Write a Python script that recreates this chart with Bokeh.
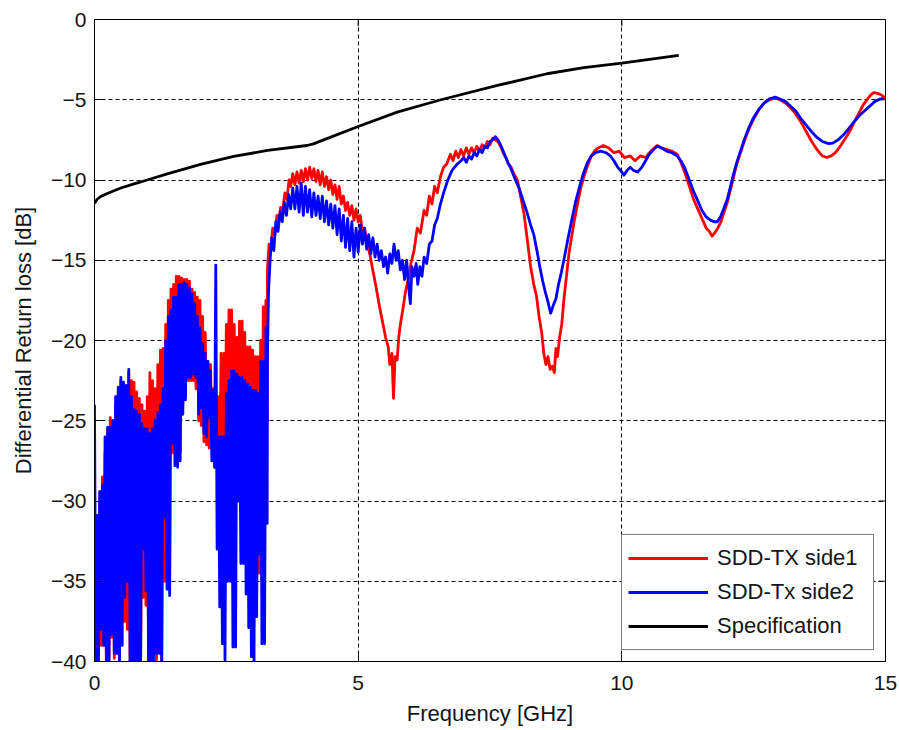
from bokeh.plotting import figure
from bokeh.models import Range1d, FixedTicker, Legend, LegendItem
from bokeh.embed import file_html
from bokeh.resources import INLINE

# ---------------- data ----------------
# low-frequency noisy region: upper / lower excursions every 0.05 GHz
lf_freq = [round(0.05 * i, 2) for i in range(66)]  # 0.00 .. 3.25 GHz grid

blue_lf_top = [-24.0, -30.9, -29.4, -29.0, -26.0, -25.4, -25.4, -25.0, -23.5, -22.9,
               -22.3, -22.6, -22.8, -21.8, -23.5, -24.3, -24.4, -24.6, -25.2, -25.5,
               -25.5, -25.8, -25.5, -25.0, -24.5, -24.0, -23.0, -20.0, -18.5, -18.1,
               -17.3, -17.3, -16.5, -16.5, -16.4, -16.5, -16.7, -17.1, -17.7, -18.5,
               -19.2, -20.2, -20.8, -21.3, -21.9, -23.1, -15.3, -26.0, -26.0, -26.0,
               -23.3, -22.5, -21.9, -21.9, -22.1, -22.3, -22.3, -22.5, -22.7, -22.9,
               -23.1, -23.1, -23.3, -21.3, -21.3, -19.2]
blue_lf_bottom = [-40, -40, -38.0, -39.0, -40, -40, -38.3, -39.5, -39.5, -40,
                  -39.0, -36.0, -35.0, -40, -40, -40, -40, -40, -33.0, -35.6,
                  -40, -40, -40, -39.5, -39.5, -40, -31.0, -35.5, -35.9, -26.4,
                  -27.8, -27.9, -27.5, -24.6, -23.7, -22.3, -22.3, -22.1, -22.3, -24.6,
                  -24.2, -25.8, -26.0, -24.8, -27.5, -27.9, -33.0, -36.6, -38.9, -40,
                  -35.0, -35.0, -39.1, -39.1, -30.0, -33.9, -33.9, -35.8, -37.9, -39.7,
                  -40, -37.2, -33.3, -38.9, -38.9, -31.4]
red_lf_top = [-30.0, -31.0, -29.5, -28.5, -27.0, -25.5, -24.8, -25.0, -24.0, -23.2,
              -22.5, -22.7, -23.0, -22.0, -22.5, -22.6, -23.2, -23.6, -24.0, -24.4,
              -23.5, -22.0, -22.5, -23.0, -21.5, -20.6, -20.5, -19.0, -17.5, -16.8,
              -16.5, -16.0, -16.0, -16.1, -16.2, -16.2, -16.3, -16.8, -17.0, -17.3,
              -17.5, -18.5, -19.5, -21.3, -21.5, -23.0, -24.0, -23.5, -20.8, -20.8,
              -19.0, -18.1, -18.1, -19.0, -19.8, -18.8, -18.8, -19.5, -20.4, -20.4,
              -20.6, -21.0, -21.0, -20.0, -17.9, -17.5]
red_lf_bottom = [-40, -40, -39.0, -39.0, -40, -40, -38.5, -39.8, -39.5, -40,
                 -37.5, -37.5, -38.0, -40, -40, -40, -40, -40, -36.0, -36.5,
                 -40, -40, -40, -40, -39.0, -40, -35.0, -35.0, -35.0, -27.0,
                 -27.0, -27.0, -27.0, -24.0, -23.5, -22.5, -22.5, -22.5, -23.0, -25.0,
                 -25.3, -26.3, -26.5, -26.7, -26.0, -25.0, -28.0, -28.5, -28.5, -27.5,
                 -26.0, -25.0, -24.5, -26.0, -27.0, -27.0, -29.0, -30.5, -31.5, -33.0,
                 -33.0, -35.0, -34.5, -35.0, -30.0, -25.0]

# higher-frequency part
red_hf_freq = [3.28, 3.31, 3.34, 3.38, 3.42, 3.46, 3.50, 3.53, 3.57, 3.61, 3.65, 3.69, 3.72, 3.76,
               3.80, 3.84, 3.88, 3.92, 3.96, 4.00, 4.04, 4.08, 4.12, 4.16, 4.20, 4.24, 4.28, 4.32,
               4.36, 4.40, 4.44, 4.48, 4.52, 4.56, 4.60, 4.64, 4.68, 4.72, 4.76, 4.80, 4.84, 4.88,
               4.92, 4.96, 5.00, 5.04, 5.08, 5.12, 5.17, 5.22, 5.27, 5.33, 5.40, 5.46, 5.52, 5.57,
               5.60, 5.64, 5.67, 5.70, 5.74, 5.77, 5.80, 5.85, 5.90, 5.95, 6.00, 6.06, 6.12, 6.18,
               6.25, 6.30, 6.35, 6.40, 6.45, 6.50, 6.56, 6.62, 6.68, 6.75, 6.80, 6.85, 6.90, 6.95,
               7.00, 7.05, 7.10, 7.15, 7.20, 7.25, 7.30, 7.35, 7.40, 7.45, 7.50, 7.55, 7.60, 7.65,
               7.70, 7.75, 7.80, 7.85, 7.90, 7.95, 8.02, 8.08, 8.15, 8.21, 8.27, 8.33, 8.38, 8.43,
               8.48, 8.52, 8.56, 8.60, 8.64, 8.68, 8.72, 8.75, 8.78, 8.82, 8.86, 8.90, 8.95, 9.00,
               9.05, 9.10, 9.16, 9.22, 9.28, 9.34, 9.41, 9.48, 9.55, 9.65, 9.75, 9.85, 9.95, 10.05,
               10.16, 10.25, 10.35, 10.45, 10.55, 10.67, 10.75, 10.85, 10.95, 11.05, 11.12, 11.20,
               11.28, 11.36, 11.44, 11.52, 11.60, 11.66, 11.71, 11.76, 11.82, 11.88, 11.94, 12.00,
               12.06, 12.12, 12.18, 12.25, 12.32, 12.40, 12.50, 12.60, 12.70, 12.80, 12.91, 13.00,
               13.10, 13.20, 13.30, 13.40, 13.50, 13.60, 13.70, 13.80, 13.89, 13.97, 14.05, 14.12,
               14.20, 14.28, 14.35, 14.42, 14.50, 14.58, 14.65, 14.72, 14.78, 14.85, 14.92, 15.00]
red_hf_db = [-15.5, -14.0, -14.4, -13.0, -13.4, -12.2, -12.5, -11.7, -11.9, -10.8, -11.2, -10.0, -10.4, -9.6,
             -10.3, -9.5, -10.2, -9.4, -10.1, -9.3, -10.0, -9.2, -9.9, -9.3, -10.1, -9.4, -10.3, -9.5,
             -10.4, -9.8, -10.6, -10.0, -10.9, -10.3, -11.2, -10.4, -11.5, -11.0, -11.9, -11.4, -12.2, -11.6,
             -12.5, -11.8, -12.6, -12.2, -13.2, -13.0, -14.0, -14.6, -15.5, -16.5, -17.8, -18.8, -19.8, -20.4,
             -21.5, -20.8, -23.6, -21.0, -21.2, -19.8, -19.0, -18.0, -16.9, -16.2, -15.2, -14.4, -13.0, -13.3,
             -11.9, -12.2, -11.0, -11.5, -10.4, -10.8, -9.8, -9.2, -9.0, -8.4, -8.8, -8.2, -8.6, -8.1,
             -8.5, -8.0, -8.4, -8.0, -8.3, -7.9, -8.2, -7.8, -8.0, -7.6, -7.8, -7.4, -7.5, -7.6,
             -7.9, -8.3, -8.6, -9.0, -9.2, -9.6, -10.0, -11.0, -12.2, -13.8, -15.4, -16.5, -17.2, -18.5,
             -19.5, -20.8, -21.5, -21.0, -21.8, -21.6, -22.0, -20.5, -21.0, -19.8, -19.0, -17.5, -16.0, -14.5,
             -13.5, -12.5, -11.5, -10.5, -9.8, -9.2, -8.6, -8.2, -8.0, -7.85, -8.0, -8.3, -8.2, -8.6,
             -8.5, -8.8, -8.5, -8.6, -8.2, -7.85, -8.0, -8.1, -8.2, -8.4, -8.9, -9.6,
             -10.4, -11.2, -11.8, -12.4, -13.0, -13.2, -13.5, -13.3, -13.0, -12.6, -12.0, -11.4,
             -10.6, -9.8, -9.0, -8.3, -7.6, -6.9, -6.2, -5.6, -5.2, -5.0, -4.9, -5.0,
             -5.2, -5.5, -5.9, -6.4, -7.0, -7.6, -8.1, -8.5, -8.6, -8.5, -8.3, -8.0,
             -7.6, -7.2, -6.8, -6.3, -5.8, -5.3, -5.0, -4.7, -4.55, -4.6, -4.7, -4.9]

blue_hf_freq = [3.28, 3.30, 3.33, 3.36, 3.40, 3.44, 3.48, 3.52, 3.56, 3.60, 3.64, 3.68, 3.72, 3.76,
                3.80, 3.84, 3.88, 3.92, 3.96, 4.00, 4.04, 4.08, 4.12, 4.16, 4.20, 4.24, 4.28, 4.32,
                4.36, 4.40, 4.44, 4.48, 4.52, 4.56, 4.60, 4.64, 4.68, 4.72, 4.76, 4.80, 4.84, 4.88,
                4.92, 4.96, 5.00, 5.04, 5.08, 5.12, 5.16, 5.20, 5.24, 5.28, 5.32, 5.36, 5.40, 5.44,
                5.48, 5.52, 5.56, 5.60, 5.64, 5.68, 5.72, 5.76, 5.80, 5.84, 5.88, 5.92, 5.96, 5.99,
                6.02, 6.06, 6.10, 6.13, 6.17, 6.21, 6.25, 6.30, 6.35, 6.40, 6.45, 6.50, 6.56, 6.62,
                6.70, 6.78, 6.88, 6.95, 7.00, 7.05, 7.10, 7.15, 7.20, 7.25, 7.30, 7.35, 7.40, 7.45,
                7.50, 7.55, 7.60, 7.65, 7.70, 7.75, 7.80, 7.85, 7.90, 7.97, 8.05, 8.12, 8.20, 8.27,
                8.33, 8.39, 8.45, 8.50, 8.55, 8.60, 8.65, 8.70, 8.75, 8.80, 8.85, 8.90, 8.97, 9.05,
                9.12, 9.20, 9.27, 9.35, 9.42, 9.50, 9.60, 9.70, 9.78, 9.85, 9.92, 10.00, 10.04, 10.10,
                10.16, 10.22, 10.30, 10.38, 10.45, 10.52, 10.60, 10.67, 10.75, 10.85, 10.95, 11.05,
                11.12, 11.20, 11.28, 11.36, 11.44, 11.52, 11.60, 11.68, 11.75, 11.81, 11.87, 11.93,
                12.00, 12.06, 12.12, 12.18, 12.25, 12.32, 12.40, 12.50, 12.60, 12.70, 12.80, 12.91,
                13.00, 13.10, 13.20, 13.30, 13.40, 13.50, 13.60, 13.70, 13.80, 13.92, 14.00, 14.10,
                14.20, 14.30, 14.40, 14.50, 14.60, 14.70, 14.80, 14.90, 14.97]
blue_hf_db = [-21.0, -17.0, -15.0, -13.6, -14.4, -12.6, -13.2, -12.0, -12.6, -11.4, -12.2, -10.9, -11.8, -10.5,
              -11.8, -10.4, -12.0, -10.2, -12.2, -10.4, -12.0, -10.6, -12.3, -10.8, -12.2, -11.0, -12.4, -11.0,
              -12.6, -11.3, -12.8, -11.5, -13.0, -11.6, -13.4, -11.8, -13.8, -12.2, -14.2, -12.4, -14.4, -12.6,
              -14.8, -13.0, -14.5, -12.8, -14.0, -13.0, -14.3, -13.4, -14.6, -13.6, -14.8, -14.0, -15.0, -14.4,
              -15.4, -14.8, -15.8, -14.6, -15.2, -14.0, -15.0, -14.4, -15.6, -15.0, -16.2, -15.0, -16.8, -17.7,
              -15.4, -16.0, -15.2, -16.5, -15.4, -16.0, -14.8, -15.2, -14.0, -13.8, -12.8, -12.4, -11.5, -10.8,
              -10.0, -9.4, -9.0, -8.8, -8.6, -8.9, -8.5, -8.7, -8.3, -8.5, -8.1, -8.3, -7.9, -8.0,
              -7.6, -7.5, -7.3, -7.5, -7.8, -8.2, -8.6, -9.0, -9.3, -9.9, -10.5, -11.2, -12.0, -12.8,
              -13.4, -14.4, -15.5, -16.3, -17.0, -17.6, -18.3, -17.8, -17.4, -16.5, -15.8, -15.0, -13.8, -12.5,
              -11.4, -10.4, -9.6, -8.9, -8.5, -8.3, -8.2, -8.3, -8.5, -8.8, -9.2, -9.5, -9.7, -9.4,
              -9.2, -9.4, -9.5, -9.2, -8.8, -8.4, -8.1, -7.9, -8.0, -8.2, -8.3, -8.5,
              -8.8, -9.3, -10.0, -10.7, -11.3, -11.9, -12.3, -12.5, -12.6, -12.6, -12.3, -11.8,
              -11.2, -10.4, -9.6, -8.9, -8.2, -7.5, -6.8, -6.1, -5.6, -5.2, -4.95, -4.84,
              -4.95, -5.1, -5.4, -5.7, -6.2, -6.6, -7.0, -7.35, -7.6, -7.73, -7.7, -7.5,
              -7.2, -6.8, -6.4, -6.0, -5.7, -5.4, -5.1, -4.95, -4.93]

spec_freq = [0, 0.05, 0.11, 0.2, 0.3, 0.5, 0.75, 1.0, 1.38, 2.01, 2.64, 3.28, 4.03, 4.15,
             4.48, 5.0, 5.74, 6.57, 7.64, 8.58, 9.28, 10.0, 11.08]
spec_db = [-11.45, -11.2, -11.05, -10.9, -10.76, -10.5, -10.24, -10.0, -9.62, -9.03, -8.53, -8.16, -7.85, -7.75,
           -7.33, -6.67, -5.77, -5.0, -4.11, -3.38, -3.0, -2.72, -2.24]

x_ticks = [0, 5, 10, 15]
y_ticks = [-40, -35, -30, -25, -20, -15, -10, -5, 0]
series_names = ["SDD-TX side1", "SDD-Tx side2", "Specification"]


def zigzag(freq, top, bottom, half_step=0.025):
    xs, ys = [], []
    for f, t, b in zip(freq, top, bottom):
        xs += [f, f + half_step]
        ys += [t, b]
    return xs, ys


rx, ry = zigzag(lf_freq, red_lf_top, red_lf_bottom)
bx, by = zigzag(lf_freq, blue_lf_top, blue_lf_bottom)
red_x, red_y = rx + red_hf_freq, ry + red_hf_db
blue_x, blue_y = bx + blue_hf_freq, by + blue_hf_db

FONT = "Liberation Sans"
TXT = "#141414"
W, H = 899, 730
ML, MR, MT, MB = 94, 14, 19, 69
X0, X1, Y0, Y1 = 0, 15, -40, 0
TICK = 7  # px, inward

p = figure(width=W, height=H, output_backend="svg", toolbar_location=None,
           x_range=Range1d(X0, X1), y_range=Range1d(Y0, Y1),
           min_border_left=ML, min_border_right=MR, min_border_top=MT, min_border_bottom=MB)
p.background_fill_color = "white"
p.border_fill_color = "white"
p.outline_line_color = "black"
p.outline_line_width = 1
p.outline_line_alpha = 1

for ax in (p.xaxis[0], p.yaxis[0]):
    ax.major_tick_in = TICK
    ax.major_tick_out = 0
    ax.minor_tick_in = 0
    ax.minor_tick_out = 0
    ax.axis_line_color = "black"
    ax.major_tick_line_color = "black"
    ax.major_label_text_font = FONT
    ax.major_label_text_font_size = "21px"
    ax.major_label_text_color = TXT
    ax.axis_label_text_font = FONT
    ax.axis_label_text_font_size = "22px"
    ax.axis_label_text_font_style = "normal"
    ax.axis_label_text_color = TXT

p.xaxis.ticker = FixedTicker(ticks=x_ticks)
p.yaxis.ticker = FixedTicker(ticks=y_ticks)
p.xaxis.axis_label = "Frequency [GHz]"
p.yaxis.axis_label = "Differential Return loss [dB]"
p.xaxis.major_label_standoff = 14
p.yaxis.major_label_standoff = 8
p.xaxis.axis_label_standoff = 8
p.yaxis.axis_label_standoff = 12

p.xgrid.ticker = FixedTicker(ticks=x_ticks)
p.ygrid.ticker = FixedTicker(ticks=y_ticks)
for g in (p.xgrid[0], p.ygrid[0]):
    g.grid_line_color = "black"
    g.grid_line_dash = "4 3"
    g.grid_line_width = 1

# mirrored inward ticks on the top and right edges (MATLAB box style)
tick_dy = TICK * (Y1 - Y0) / (H - MT - MB)
tick_dx = TICK * (X1 - X0) / (W - ML - MR)
p.segment(x0=x_ticks, y0=[Y1] * len(x_ticks), x1=x_ticks, y1=[Y1 - tick_dy] * len(x_ticks),
          line_color="black", line_width=1)
p.segment(x0=[X1] * len(y_ticks), y0=y_ticks, x1=[X1 - tick_dx] * len(y_ticks), y1=y_ticks,
          line_color="black", line_width=1)

r_red = p.line(red_x, red_y, line_color="#ff0000", line_width=2.8, line_join="round")
r_blue = p.line(blue_x, blue_y, line_color="#0000ff", line_width=2.8, line_join="round")
r_spec = p.line(spec_freq, spec_db, line_color="black", line_width=2.8, line_join="round")

legend = Legend(items=[LegendItem(label=series_names[0], renderers=[r_red]),
                       LegendItem(label=series_names[1], renderers=[r_blue]),
                       LegendItem(label=series_names[2], renderers=[r_spec])],
                location="bottom_right")
legend.margin = 11
legend.padding = 6
legend.spacing = 0
legend.glyph_width = 80
legend.glyph_height = 34
legend.label_height = 34
legend.label_standoff = 9
legend.label_width = 150
legend.label_text_font = FONT
legend.label_text_font_size = "22px"
legend.label_text_color = TXT
legend.border_line_color = "black"
legend.border_line_width = 1
legend.background_fill_color = "white"
legend.background_fill_alpha = 1
p.add_layout(legend, "center")

open("out.html", "w").write(file_html(p, INLINE))
